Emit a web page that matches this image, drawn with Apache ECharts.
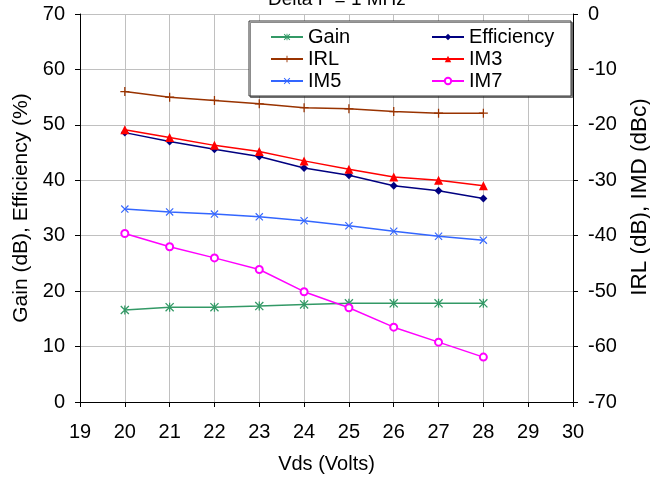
<!DOCTYPE html>
<html>
<head>
<meta charset="utf-8">
<script src="https://cdn.jsdelivr.net/npm/echarts@6/dist/echarts.min.js"></script>
<style>
html,body{margin:0;padding:0;background:#fff;}
#c{width:650px;height:481px;}
</style>
</head>
<body>
<div id="c"></div>
<script>
// ---- data ----
const vds = [20, 21, 22, 23, 24, 25, 26, 27, 28];
const gain = [16.6, 17.1, 17.1, 17.3, 17.6, 17.8, 17.8, 17.8, 17.8];
const efficiency = [48.6, 47.0, 45.6, 44.3, 42.2, 40.9, 39.0, 38.1, 36.7];
const irl = [-14.0, -15.0, -15.6, -16.2, -16.9, -17.1, -17.6, -17.9, -17.9];
const im3 = [-20.9, -22.3, -23.7, -24.8, -26.5, -28.0, -29.4, -30.0, -31.0];
const im5 = [-35.2, -35.7, -36.1, -36.6, -37.3, -38.2, -39.2, -40.1, -40.8];
const im7 = [-39.6, -42.0, -44.0, -46.1, -50.1, -53.0, -56.5, -59.2, -61.9];
const titleText = 'Delta F = 1 MHz';
const xName = 'Vds (Volts)';
const yLeftName = 'Gain (dB), Efficiency (%)';
const yRightName = 'IRL (dB), IMD (dBc)';

const FONT = '"Liberation Sans", Arial, sans-serif';
const pts = arr => vds.map((x, i) => [x, arr[i]]);

const plusPath = 'path://M4.3,0H5.7V4.3H10V5.7H5.7V10H4.3V5.7H0V4.3H4.3Z';
const xPath = 'path://M0,1L1,0L10,9L9,10Z M9,0L10,1L1,10L0,9Z';
const astPath = 'path://M0,1L1,0L10,9L9,10Z M9,0L10,1L1,10L0,9Z M4.3,0H5.7V10H4.3Z';

function ser(name, data, color, symbol, size, yIdx, extra) {
  return Object.assign({
    name: name, type: 'line', data: pts(data), yAxisIndex: yIdx,
    symbol: symbol, symbolSize: size,
    lineStyle: {color: color, width: 1.5},
    itemStyle: {color: color},
    animation: false
  }, extra || {});
}

const chart = echarts.init(document.getElementById('c'), null, {renderer: 'canvas'});
chart.setOption({
  backgroundColor: '#fff',
  animation: false,
  title: {
    text: titleText, left: 263, top: -15,
    textStyle: {fontFamily: FONT, fontSize: 19, fontWeight: 'normal', color: '#000'}
  },
  grid: {left: 80, right: 77, top: 14, bottom: 79, containLabel: false, outerBoundsMode: 'none'},
  graphic: [{
    type: 'rect', z: 3,
    shape: {x: 249, y: 21, width: 322, height: 75},
    style: {fill: '#fff', stroke: '#333', lineWidth: 1, shadowColor: 'rgba(0,0,0,0.45)', shadowOffsetX: 1.5, shadowOffsetY: 1.5}
  }],
  legend: [{
    orient: 'vertical', left: 270, top: 26, padding: 0, itemGap: 0,
    itemWidth: 32, itemHeight: 8,
    data: ['Gain', 'IRL', 'IM5'],
    textStyle: {fontFamily: FONT, fontSize: 20, lineHeight: 22, color: '#000'}
  }, {
    orient: 'vertical', left: 431, top: 26, padding: 0, itemGap: 0,
    itemWidth: 32, itemHeight: 8,
    data: ['Efficiency', 'IM3', 'IM7'],
    textStyle: {fontFamily: FONT, fontSize: 20, lineHeight: 22, color: '#000'}
  }],
  xAxis: {
    type: 'value', min: 19, max: 30, interval: 1,
    name: xName, nameLocation: 'middle', nameGap: 52,
    nameTextStyle: {fontFamily: FONT, fontSize: 20, color: '#000'},
    axisLine: {show: true, lineStyle: {color: '#000', width: 1}},
    axisTick: {show: true, length: 5, lineStyle: {color: '#000'}},
    axisLabel: {fontFamily: FONT, fontSize: 20, color: '#000', margin: 20},
    splitLine: {show: true, lineStyle: {color: '#c0c0c0', width: 1}}
  },
  yAxis: [{
    type: 'value', min: 0, max: 70, interval: 10, position: 'left',
    name: yLeftName, nameLocation: 'middle', nameGap: 48, nameRotate: 90,
    nameTextStyle: {fontFamily: FONT, fontSize: 21, color: '#000'},
    axisLine: {show: true, lineStyle: {color: '#000', width: 1}},
    axisTick: {show: true, length: 5, lineStyle: {color: '#000'}},
    axisLabel: {fontFamily: FONT, fontSize: 20, color: '#000', margin: 15},
    splitLine: {show: true, lineStyle: {color: '#c0c0c0', width: 1}}
  }, {
    type: 'value', min: -70, max: 0, interval: 10, position: 'right',
    name: yRightName, nameLocation: 'middle', nameGap: 53, nameRotate: 90,
    nameTextStyle: {fontFamily: FONT, fontSize: 22.5, color: '#000', padding: [0, 0, 0, 22]},
    axisLine: {show: true, lineStyle: {color: '#000', width: 1}},
    axisTick: {show: true, length: 5, lineStyle: {color: '#000'}},
    axisLabel: {fontFamily: FONT, fontSize: 20, color: '#000', margin: 15},
    splitLine: {show: false}
  }],
  series: [
    ser('Gain', gain, '#339966', astPath, 9, 0),
    ser('Efficiency', efficiency, '#000080', 'diamond', 8, 0),
    ser('IRL', irl, '#993300', plusPath, 9, 1),
    ser('IM3', im3, '#ff0000', 'triangle', 9, 1),
    ser('IM5', im5, '#3366ff', xPath, 8, 1),
    ser('IM7', im7, '#ff00ff', 'emptyCircle', 7, 1, {itemStyle: {color: '#ff00ff', borderWidth: 1.5}})
  ]
});
</script>
</body>
</html>
